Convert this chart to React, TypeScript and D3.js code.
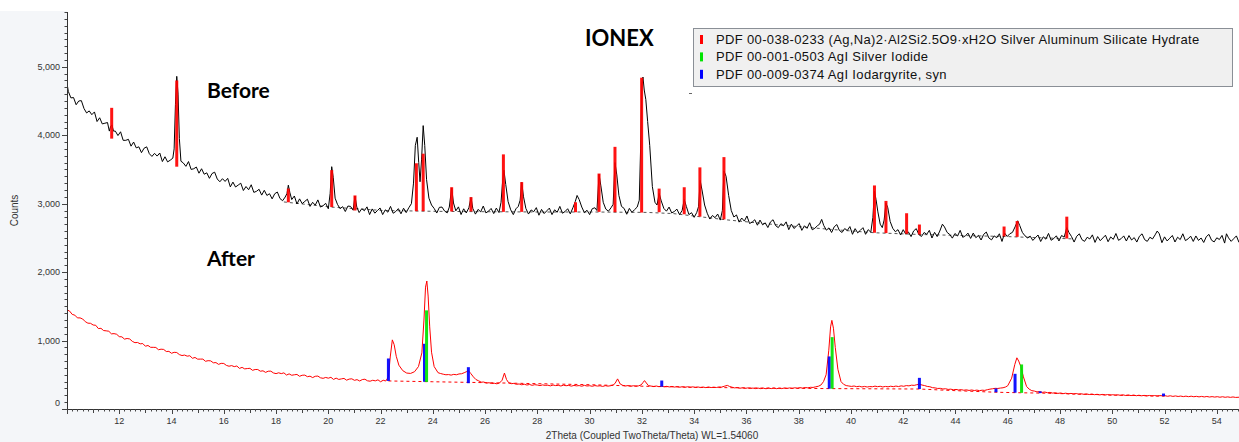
import React from 'react';
import * as d3 from 'd3';

type Pt = [number, number];
type Stick = [number, number, number]; // 2theta, base counts, top counts

// "Before" scan (black), 2theta / counts
const beforeScan: Pt[] = [
  [10.0, 4760], [10.05, 4640], [10.15, 4545], [10.25, 4550], [10.35, 4445], [10.45, 4500], [10.55, 4505], [10.65, 4390],
  [10.75, 4325], [10.85, 4355], [10.95, 4300], [11.05, 4340], [11.15, 4200], [11.25, 4255], [11.35, 4165], [11.45, 4175],
  [11.55, 4185], [11.62, 4060], [11.67, 4130], [11.72, 4150], [11.78, 4060], [11.85, 4060], [11.95, 3995], [12.05, 4050],
  [12.15, 3925], [12.25, 3925], [12.35, 3940], [12.45, 3840], [12.55, 3900], [12.65, 3815], [12.75, 3830], [12.85, 3745],
  [12.95, 3810], [13.05, 3830], [13.15, 3730], [13.25, 3690], [13.35, 3735], [13.45, 3695], [13.55, 3740], [13.65, 3615],
  [13.75, 3685], [13.85, 3610], [13.95, 3635], [14.05, 3665], [14.1, 3800], [14.15, 4450], [14.2, 4860], [14.25, 4600],
  [14.3, 3950], [14.36, 3620], [14.45, 3595], [14.55, 3545], [14.65, 3615], [14.75, 3500], [14.85, 3510], [14.95, 3535],
  [15.05, 3445], [15.15, 3510], [15.25, 3430], [15.35, 3450], [15.45, 3370], [15.55, 3440], [15.65, 3460], [15.75, 3360],
  [15.85, 3320], [15.95, 3365], [16.05, 3325], [16.15, 3370], [16.25, 3245], [16.35, 3315], [16.45, 3243], [16.55, 3271],
  [16.65, 3299], [16.75, 3192], [16.85, 3250], [16.95, 3203], [17.05, 3276], [17.15, 3165], [17.25, 3180], [17.35, 3210],
  [17.45, 3125], [17.55, 3195], [17.65, 3120], [17.75, 3145], [17.85, 3070], [17.95, 3145], [18.05, 3170], [18.15, 3075],
  [18.25, 3043], [18.35, 3097], [18.42, 3150], [18.47, 3270], [18.53, 3160], [18.6, 3060], [18.7, 3112], [18.8, 2995],
  [18.9, 3070], [19.0, 3000], [19.1, 3033], [19.2, 3065], [19.3, 2960], [19.4, 3020], [19.5, 2978], [19.6, 3055],
  [19.7, 2950], [19.8, 2970], [19.9, 3005], [20.0, 2925], [20.07, 3150], [20.13, 3540], [20.19, 3380], [20.26, 3080],
  [20.35, 2990], [20.45, 2927], [20.55, 2956], [20.65, 2885], [20.75, 2965], [20.85, 2960], [20.95, 2905], [21.02, 3110],
  [21.09, 2950], [21.18, 2870], [21.28, 2926], [21.38, 2897], [21.48, 2953], [21.58, 2840], [21.68, 2923], [21.78, 2861],
  [21.88, 2899], [21.98, 2937], [22.08, 2840], [22.18, 2910], [22.28, 2875], [22.38, 2960], [22.48, 2860], [22.58, 2885],
  [22.68, 2927], [22.78, 2852], [22.88, 2933], [22.98, 2869], [23.08, 2940], [23.18, 3000], [23.26, 3300], [23.33, 3850],
  [23.4, 3970], [23.46, 3600], [23.51, 3320], [23.57, 3650], [23.63, 4140], [23.69, 3850], [23.76, 3350], [23.85, 3080],
  [23.95, 2980], [24.05, 2930], [24.15, 2863], [24.25, 2946], [24.35, 2950], [24.45, 2892], [24.55, 2865], [24.63, 2950],
  [24.72, 3230], [24.79, 3010], [24.88, 2895], [24.98, 2953], [25.08, 2841], [25.18, 2925], [25.28, 2864], [25.38, 2940],
  [25.46, 3090], [25.53, 2930], [25.63, 2847], [25.73, 2916], [25.83, 2881], [25.93, 2965], [26.03, 2865], [26.13, 2890],
  [26.23, 2930], [26.33, 2855], [26.43, 2935], [26.53, 2870], [26.61, 3020], [26.66, 3280], [26.72, 3490], [26.79, 3280],
  [26.88, 3030], [26.98, 2910], [27.08, 2840], [27.18, 2925], [27.27, 2960], [27.34, 3050], [27.4, 3310], [27.47, 3100],
  [27.56, 2930], [27.66, 2848], [27.76, 2908], [27.86, 2882], [27.96, 2942], [28.06, 2831], [28.16, 2916], [28.26, 2855],
  [28.36, 2895], [28.46, 2935], [28.56, 2840], [28.66, 2910], [28.76, 2875], [28.86, 2960], [28.96, 2860], [29.06, 2885],
  [29.16, 2926], [29.26, 2851], [29.36, 2940], [29.45, 3030], [29.52, 3120], [29.6, 3060], [29.7, 2950], [29.8, 2868],
  [29.9, 2904], [30.0, 2840], [30.1, 2926], [30.2, 2940], [30.28, 2900], [30.36, 3430], [30.43, 3260], [30.52, 3020],
  [30.62, 2920], [30.72, 2890], [30.82, 2940], [30.9, 2990], [30.97, 3600], [31.04, 3420], [31.12, 3120], [31.22, 2960],
  [31.32, 2930], [31.42, 2845], [31.52, 2931], [31.62, 2872], [31.72, 2913], [31.82, 2950], [31.9, 3050], [31.95, 3800],
  [32.0, 4750], [32.04, 4850], [32.09, 4660], [32.15, 4520], [32.22, 4200], [32.3, 3850], [32.4, 3250], [32.5, 3020],
  [32.58, 2980], [32.66, 3150], [32.74, 3040], [32.84, 2930], [32.94, 2890], [33.04, 2950], [33.14, 2865], [33.24, 2885],
  [33.34, 2920], [33.44, 2840], [33.54, 2900], [33.62, 3060], [33.7, 2960], [33.8, 2840], [33.9, 2868], [34.0, 2800],
  [34.1, 2872], [34.17, 2960], [34.23, 3340], [34.3, 3200], [34.4, 2980], [34.5, 2860], [34.6, 2775], [34.7, 2827],
  [34.8, 2795], [34.9, 2848], [35.0, 2760], [35.08, 2900], [35.14, 3480], [35.22, 3400], [35.32, 3120], [35.42, 2900],
  [35.52, 2805], [35.62, 2835], [35.72, 2730], [35.82, 2790], [35.92, 2745], [36.02, 2820], [36.12, 2710], [36.22, 2730],
  [36.32, 2765], [36.42, 2685], [36.52, 2760], [36.62, 2690], [36.72, 2720], [36.82, 2651], [36.92, 2733], [37.02, 2765],
  [37.12, 2678], [37.22, 2650], [37.32, 2707], [37.42, 2678], [37.52, 2734], [37.62, 2620], [37.72, 2701], [37.82, 2637],
  [37.92, 2673], [38.02, 2709], [38.12, 2610], [38.22, 2677], [38.32, 2639], [38.42, 2721], [38.52, 2618], [38.62, 2641],
  [38.72, 2679], [38.8, 2700], [38.88, 2770], [38.96, 2680], [39.06, 2613], [39.16, 2646], [39.26, 2579], [39.36, 2662],
  [39.46, 2695], [39.56, 2607], [39.66, 2579], [39.76, 2636], [39.86, 2608], [39.96, 2665], [40.06, 2552], [40.16, 2635],
  [40.26, 2573], [40.36, 2611], [40.46, 2649], [40.56, 2552], [40.66, 2620], [40.76, 2583], [40.84, 2800], [40.9, 3180],
  [40.96, 3060], [41.03, 2880], [41.12, 2700], [41.2, 2650], [41.27, 2760], [41.34, 3010], [41.41, 2940], [41.5, 2740],
  [41.6, 2640], [41.7, 2590], [41.8, 2620], [41.9, 2542], [42.0, 2620], [42.1, 2553], [42.2, 2586], [42.3, 2519],
  [42.4, 2602], [42.5, 2635], [42.6, 2548], [42.7, 2521], [42.8, 2579], [42.9, 2552], [43.0, 2610], [43.1, 2498],
  [43.2, 2581], [43.3, 2519], [43.4, 2600], [43.5, 2700], [43.58, 2660], [43.68, 2580], [43.78, 2550], [43.88, 2496],
  [43.98, 2564], [44.08, 2527], [44.18, 2610], [44.28, 2508], [44.38, 2531], [44.48, 2569], [44.58, 2492], [44.68, 2570],
  [44.78, 2503], [44.88, 2536], [44.98, 2469], [45.08, 2552], [45.18, 2585], [45.28, 2498], [45.38, 2471], [45.48, 2529],
  [45.58, 2502], [45.68, 2560], [45.78, 2448], [45.88, 2570], [45.98, 2520], [46.08, 2560], [46.18, 2580], [46.28, 2660],
  [46.38, 2750], [46.46, 2680], [46.56, 2580], [46.66, 2530], [46.76, 2500], [46.86, 2525], [46.96, 2463], [47.06, 2503],
  [47.16, 2542], [47.26, 2447], [47.36, 2516], [47.46, 2481], [47.56, 2565], [47.66, 2465], [47.76, 2490], [47.86, 2530],
  [47.96, 2455], [48.06, 2535], [48.16, 2510], [48.26, 2650], [48.34, 2580], [48.44, 2520], [48.54, 2439], [48.64, 2524],
  [48.74, 2559], [48.84, 2474], [48.94, 2449], [49.04, 2509], [49.14, 2484], [49.24, 2544], [49.34, 2434], [49.44, 2519],
  [49.54, 2459], [49.64, 2499], [49.74, 2539], [49.84, 2444], [49.94, 2514], [50.04, 2479], [50.14, 2564], [50.24, 2464],
  [50.34, 2489], [50.44, 2529], [50.54, 2454], [50.64, 2534], [50.74, 2469], [50.84, 2504], [50.94, 2439], [51.04, 2524],
  [51.14, 2559], [51.24, 2474], [51.34, 2449], [51.44, 2509], [51.54, 2484], [51.64, 2544], [51.72, 2600], [51.8, 2560],
  [51.9, 2430], [52.0, 2515], [52.1, 2455], [52.2, 2495], [52.3, 2535], [52.4, 2440], [52.5, 2510], [52.6, 2475],
  [52.7, 2560], [52.8, 2460], [52.9, 2485], [53.0, 2525], [53.1, 2448], [53.2, 2528], [53.3, 2463], [53.4, 2498],
  [53.5, 2433], [53.6, 2518], [53.7, 2551], [53.8, 2466], [53.9, 2441], [54.0, 2501], [54.1, 2476], [54.2, 2536],
  [54.3, 2424], [54.37, 2560], [54.45, 2500], [54.55, 2449], [54.65, 2489], [54.75, 2529], [54.85, 2434],
];

// "After" scan (red)
const afterScan: Pt[] = [
  [10.0, 1450], [10.1, 1430], [10.2, 1382], [10.3, 1371], [10.4, 1331], [10.5, 1331], [10.6, 1315], [10.7, 1276],
  [10.8, 1254], [10.9, 1252], [11.0, 1227], [11.1, 1223], [11.2, 1175], [11.3, 1179], [11.4, 1146], [11.5, 1142],
  [11.6, 1136], [11.7, 1098], [11.8, 1101], [11.9, 1092], [12.0, 1057], [12.1, 1054], [12.2, 1021], [12.3, 1030],
  [12.4, 1023], [12.5, 988], [12.6, 969], [12.7, 972], [12.8, 952], [12.9, 956], [13.0, 917], [13.1, 928],
  [13.2, 901], [13.3, 901], [13.4, 899], [13.5, 866], [13.6, 874], [13.7, 870], [13.8, 840], [13.9, 842],
  [14.0, 814], [14.1, 828], [14.2, 825], [14.3, 795], [14.4, 781], [14.5, 788], [14.6, 772], [14.7, 778],
  [14.8, 741], [14.9, 753], [15.0, 728], [15.1, 729], [15.2, 729], [15.3, 697], [15.4, 706], [15.5, 703],
  [15.6, 675], [15.7, 678], [15.8, 652], [15.9, 667], [16.0, 665], [16.1, 637], [16.2, 625], [16.3, 634],
  [16.4, 619], [16.5, 628], [16.6, 593], [16.7, 608], [16.8, 586], [16.9, 591], [17.0, 594], [17.1, 565],
  [17.2, 577], [17.3, 577], [17.4, 552], [17.5, 558], [17.6, 535], [17.7, 552], [17.8, 553], [17.9, 527],
  [18.0, 517], [18.1, 529], [18.2, 517], [18.3, 528], [18.4, 496], [18.5, 513], [18.6, 493], [18.7, 500],
  [18.8, 505], [18.9, 478], [19.0, 493], [19.1, 495], [19.2, 472], [19.3, 480], [19.4, 459], [19.5, 478],
  [19.6, 481], [19.7, 456], [19.8, 448], [19.9, 461], [20.0, 450], [20.1, 463], [20.2, 432], [20.3, 451],
  [20.4, 432], [20.5, 440], [20.6, 447], [20.7, 421], [20.8, 437], [20.9, 441], [21.0, 419], [21.1, 429],
  [21.2, 409], [21.3, 430], [21.4, 435], [21.5, 412], [21.6, 406], [21.7, 420], [21.8, 411], [21.9, 426],
  [22.0, 398], [22.1, 420], [22.2, 409], [22.3, 470], [22.37, 760], [22.45, 1010], [22.52, 940], [22.6, 770],
  [22.7, 640], [22.85, 560], [23.0, 525], [23.15, 520], [23.3, 545], [23.45, 620], [23.58, 820], [23.66, 1300],
  [23.72, 1780], [23.77, 1870], [23.82, 1650], [23.88, 1200], [23.95, 830], [24.05, 620], [24.2, 530], [24.3, 518],
  [24.4, 508], [24.5, 500], [24.6, 503], [24.7, 495], [24.8, 506], [24.9, 500], [25.0, 512], [25.1, 515],
  [25.2, 530], [25.3, 548], [25.36, 560], [25.45, 520], [25.55, 470], [25.65, 430], [25.75, 412], [25.85, 392],
  [25.95, 394], [26.05, 378], [26.15, 384], [26.25, 372], [26.35, 376], [26.45, 368], [26.55, 380], [26.65, 420],
  [26.74, 525], [26.82, 430], [26.9, 385], [27.0, 370], [27.1, 374], [27.2, 360], [27.3, 366], [27.4, 354],
  [27.5, 362], [27.6, 350], [27.7, 358], [27.8, 346], [27.9, 355], [28.0, 350], [28.1, 342], [28.2, 352],
  [28.3, 345], [28.4, 348], [28.5, 338], [28.6, 350], [28.7, 342], [28.8, 346], [28.9, 336], [29.0, 348],
  [29.1, 340], [29.2, 345], [29.3, 334], [29.4, 344], [29.5, 338], [29.6, 342], [29.7, 333], [29.8, 345],
  [29.9, 336], [30.0, 340], [30.1, 332], [30.2, 342], [30.3, 335], [30.4, 339], [30.5, 330], [30.6, 341],
  [30.7, 334], [30.8, 340], [30.9, 352], [30.97, 372], [31.07, 440], [31.17, 365], [31.27, 345], [31.37, 336],
  [31.47, 342], [31.57, 331], [31.67, 340], [31.77, 333], [31.87, 338], [31.97, 352], [32.05, 390], [32.1, 415],
  [32.17, 380], [32.25, 342], [32.35, 335], [32.45, 328], [32.55, 336], [32.65, 326], [32.75, 333], [32.85, 324],
  [32.95, 331], [33.05, 322], [33.15, 330], [33.25, 320], [33.35, 328], [33.45, 318], [33.55, 326], [33.65, 317],
  [33.75, 325], [33.85, 316], [33.95, 324], [34.05, 314], [34.15, 322], [34.25, 313], [34.35, 320], [34.45, 312],
  [34.55, 321], [34.65, 313], [34.75, 319], [34.85, 314], [34.95, 322], [35.05, 320], [35.15, 332], [35.27, 345],
  [35.35, 330], [35.45, 318], [35.55, 308], [35.65, 314], [35.75, 303], [35.85, 310], [35.95, 301], [36.05, 308],
  [36.15, 299], [36.25, 306], [36.35, 298], [36.45, 305], [36.55, 297], [36.65, 304], [36.75, 296], [36.85, 305],
  [36.95, 298], [37.05, 306], [37.15, 297], [37.25, 304], [37.35, 298], [37.45, 307], [37.55, 300], [37.65, 308],
  [37.75, 301], [37.85, 310], [37.95, 304], [38.05, 312], [38.15, 305], [38.25, 314], [38.35, 309], [38.45, 317],
  [38.55, 315], [38.65, 324], [38.75, 332], [38.85, 350], [38.95, 400], [39.05, 500], [39.15, 850], [39.22, 1200],
  [39.27, 1295], [39.33, 1180], [39.4, 900], [39.5, 580], [39.62, 400], [39.72, 360], [39.82, 342], [39.92, 336],
  [40.02, 330], [40.12, 336], [40.22, 326], [40.32, 332], [40.42, 322], [40.52, 330], [40.62, 321], [40.72, 328],
  [40.82, 325], [40.92, 334], [41.02, 326], [41.12, 332], [41.22, 322], [41.32, 330], [41.42, 324], [41.52, 333],
  [41.62, 326], [41.72, 335], [41.82, 328], [41.92, 338], [42.02, 332], [42.12, 342], [42.22, 338], [42.32, 348],
  [42.42, 345], [42.52, 355], [42.62, 362], [42.72, 350], [42.82, 342], [42.92, 330], [43.02, 325], [43.12, 312],
  [43.22, 308], [43.32, 300], [43.42, 302], [43.52, 292], [43.62, 296], [43.72, 286], [43.82, 290], [43.92, 281],
  [44.02, 286], [44.12, 278], [44.22, 283], [44.32, 274], [44.42, 280], [44.52, 271], [44.62, 278], [44.72, 270],
  [44.82, 276], [44.92, 268], [45.02, 275], [45.12, 272], [45.22, 282], [45.32, 290], [45.42, 296], [45.52, 302],
  [45.62, 300], [45.72, 306], [45.82, 310], [45.92, 322], [46.0, 340], [46.15, 450], [46.27, 650], [46.35, 748],
  [46.42, 700], [46.5, 620], [46.6, 470], [46.72, 330], [46.82, 290], [46.92, 268], [47.02, 262], [47.12, 250],
  [47.22, 254], [47.32, 243], [47.42, 248], [47.52, 238], [47.62, 243], [47.72, 232], [47.82, 238], [47.92, 228],
  [48.02, 234], [48.12, 225], [48.22, 231], [48.32, 222], [48.42, 228], [48.52, 219], [48.62, 226], [48.72, 216],
  [48.82, 222], [48.92, 214], [49.02, 220], [49.12, 211], [49.22, 218], [49.32, 209], [49.42, 215], [49.52, 206],
  [49.62, 213], [49.72, 204], [49.82, 211], [49.92, 202], [50.02, 209], [50.12, 201], [50.22, 207], [50.32, 199],
  [50.42, 206], [50.52, 197], [50.62, 204], [50.72, 196], [50.82, 203], [50.92, 194], [51.02, 201], [51.12, 193],
  [51.22, 199], [51.32, 191], [51.42, 198], [51.52, 190], [51.62, 197], [51.72, 189], [51.82, 196], [51.92, 192],
  [52.02, 194], [52.12, 186], [52.22, 193], [52.32, 184], [52.42, 191], [52.52, 183], [52.62, 189], [52.72, 181],
  [52.82, 188], [52.92, 180], [53.02, 187], [53.12, 179], [53.22, 185], [53.32, 177], [53.42, 184], [53.52, 176],
  [53.62, 183], [53.72, 175], [53.82, 181], [53.92, 174], [54.02, 180], [54.12, 172], [54.22, 179], [54.32, 171],
  [54.42, 177], [54.52, 170], [54.62, 176], [54.72, 169], [54.85, 172],
];

// fitted backgrounds (dashed)
const beforeBackground: Pt[] = [
  [18.3, 3025], [20.1, 2950], [22.1, 2900], [24.1, 2888], [26.1, 2882], [28.2, 2878], [30.2, 2878], [32.2, 2872],
  [33.2, 2855], [34.2, 2810], [35.2, 2765], [37.2, 2690], [39.2, 2625], [40.9, 2575], [42.6, 2550], [45.9, 2520],
  [48.5, 2485],
];
const afterBackground: Pt[] = [
  [22.3, 410], [24, 398], [26, 385], [28, 370], [30, 355], [32, 333], [34, 318], [36, 308], [39.2, 298],
  [42.6, 292], [44, 268], [45.55, 245], [46.5, 237], [47.3, 232], [50, 205], [52, 188],
];

// reference patterns (stick lines)
const silicateSticks: Stick[] = [
  [11.71, 3950, 4400], [14.2, 3540, 4800], [18.47, 3020, 3220], [20.13, 2950, 3490], [21.02, 2900, 3120],
  [23.37, 2890, 3590], [23.63, 2890, 3730], [24.72, 2886, 3240], [25.46, 2886, 3095], [26.7, 2880, 3720],
  [27.4, 2880, 3315], [29.46, 2875, 3020], [30.36, 2880, 3440], [30.97, 2875, 3830], [31.99, 2870, 4840],
  [32.66, 2875, 3220], [33.62, 2845, 3240], [34.22, 2810, 3530], [35.14, 2770, 3680], [40.9, 2575, 3266],
  [41.34, 2570, 3040], [42.13, 2560, 2860], [42.62, 2550, 2695], [45.86, 2522, 2666], [46.36, 2515, 2746],
  [48.26, 2490, 2810],
];
const silverIodideSticks: Stick[] = [
  [23.76, 395, 1441], [39.28, 296, 1050], [46.53, 236, 651],
];
const iodargyriteSticks: Stick[] = [
  [22.3, 410, 738], [23.68, 398, 953], [25.36, 377, 611], [32.76, 326, 416], [39.17, 297, 768],
  [42.62, 292, 455], [45.55, 245, 300], [46.28, 238, 514], [47.24, 232, 258], [51.96, 188, 226],
];

const legendEntries = [
  { color: '#ff0000', label: 'PDF 00-038-0233 (Ag,Na)2·Al2Si2.5O9·xH2O Silver Aluminum Silicate Hydrate' },
  { color: '#00e400', label: 'PDF 00-001-0503 AgI Silver Iodide' },
  { color: '#0000ff', label: 'PDF 00-009-0374 AgI Iodargyrite, syn' },
];

const xTickLabels = [12, 14, 16, 18, 20, 22, 24, 26, 28, 30, 32, 34, 36, 38, 40, 42, 44, 46, 48, 50, 52, 54];
const yTickLabels = [0, 1000, 2000, 3000, 4000, 5000];

const W = 1239;
const H = 442;
const axisFont = '"Liberation Sans", Arial, sans-serif';
const titleFont = 'Lato, "Open Sans", sans-serif';

const x = d3.scaleLinear().domain([10, 54.85]).range([67, 1239]);
const y = d3.scaleLinear().domain([0, 5800]).range([409, 12]);

const App: React.FC = () => {
  const line = d3.line<Pt>().x(d => x(d[0])).y(d => y(d[1]));
  const fmt = d3.format(',');
  const x0 = x.range()[0];
  const yBottom = y.range()[0];

  const minorX = d3.range(10, 54.86, 0.2);
  const minorY = d3.range(0, 5801, 100);

  const sticks = (data: Stick[], color: string) =>
    data.map((d, i) => (
      <line key={color + i} x1={x(d[0])} x2={x(d[0])} y1={y(d[1])} y2={y(d[2])}
        stroke={color} strokeWidth={3} />
    ));

  return (
    <svg width={W} height={H} style={{ position: 'absolute', left: 0, top: 0, background: '#fff' }}>
      <defs>
        <clipPath id="plot">
          <rect x={x0} y={11} width={W - x0} height={yBottom - 11} />
        </clipPath>
      </defs>
      <rect x={0} y={11} width={W} height={H - 11} fill="#f4f6f9" />
      <rect x={x0} y={11} width={W - x0} height={yBottom - 11} fill="#fff" />

      <g clipPath="url(#plot)">
        <path d={line(beforeBackground) || ''} fill="none" stroke="#555" strokeWidth={1} strokeDasharray="3,3" />
        <path d={line(afterBackground) || ''} fill="none" stroke="#f00" strokeWidth={1} strokeDasharray="3,3" />
        <path d={line(beforeScan) || ''} fill="none" stroke="#000" strokeWidth={1} strokeLinejoin="round" />
        <path d={line(afterScan) || ''} fill="none" stroke="#f00" strokeWidth={1} strokeLinejoin="round" />
        <g opacity={0.92}>
          {sticks(silicateSticks, '#ff0000')}
          {sticks(iodargyriteSticks, '#0000ff')}
          {sticks(silverIodideSticks, '#00e400')}
        </g>
      </g>

      {/* y axis */}
      <line x1={x0 + 0.5} x2={x0 + 0.5} y1={12} y2={yBottom + 0.5} stroke="#333" />
      {minorY.map(v => (
        <line key={'my' + v} x1={x0 - (v % 1000 === 0 ? 5 : 2.5)} x2={x0} y1={Math.round(y(v)) + 0.5}
          y2={Math.round(y(v)) + 0.5} stroke="#444" />
      ))}
      {yTickLabels.map(v => (
        <text key={'yl' + v} x={x0 - 7} y={y(v) + (v === 0 ? -3 : 3)} textAnchor="end" fontSize={9}
          fontFamily={axisFont} fill="#333">{fmt(v)}</text>
      ))}
      <text transform={`translate(18,${(12 + yBottom) / 2}) rotate(-90)`} textAnchor="middle" fontSize={10}
        fontFamily={axisFont} fill="#333">Counts</text>

      {/* x axis */}
      <line x1={x0} x2={W} y1={yBottom + 0.5} y2={yBottom + 0.5} stroke="#333" />
      {minorX.map((v, i) => {
        const len = i % 10 === 0 ? 5 : i % 5 === 0 ? 4 : 2.5;
        const px = Math.round(x(v)) + 0.5;
        return <line key={'mx' + i} x1={px} x2={px} y1={yBottom} y2={yBottom + len} stroke="#444" />;
      })}
      {xTickLabels.map(v => (
        <text key={'xl' + v} x={x(v)} y={424} textAnchor="middle" fontSize={9} fontFamily={axisFont}
          fill="#333">{v}</text>
      ))}
      <text x={652} y={439} textAnchor="middle" fontSize={10} fontFamily={axisFont} fill="#333">
        2Theta (Coupled TwoTheta/Theta) WL=1.54060
      </text>

      {/* annotations */}
      <text x={585} y={46} fontSize={22} fontWeight="bold" fontFamily={titleFont} fill="#000">IONEX</text>
      <text x={207} y={98} fontSize={21} fontWeight="bold" fontFamily={titleFont} fill="#000">Before</text>
      <text x={207} y={266} fontSize={21} fontWeight="bold" fontFamily={titleFont} fill="#000">After</text>

      {/* legend */}
      <rect x={693.5} y={28.5} width={539} height={58} fill="#f0f0f0" stroke="#8a8f96" />
      {legendEntries.map((e, i) => (
        <g key={e.label} transform={`translate(0,${39.5 + i * 17.4})`}>
          <rect x={700} y={-4.5} width={3} height={9} fill={e.color} />
          <text x={716} y={4.5} fontSize={13} letterSpacing={0.35} fontFamily={axisFont} fill="#111">{e.label}</text>
        </g>
      ))}
      <line x1={689} x2={692} y1={93.5} y2={93.5} stroke="#666" />
    </svg>
  );
};

export default App;
